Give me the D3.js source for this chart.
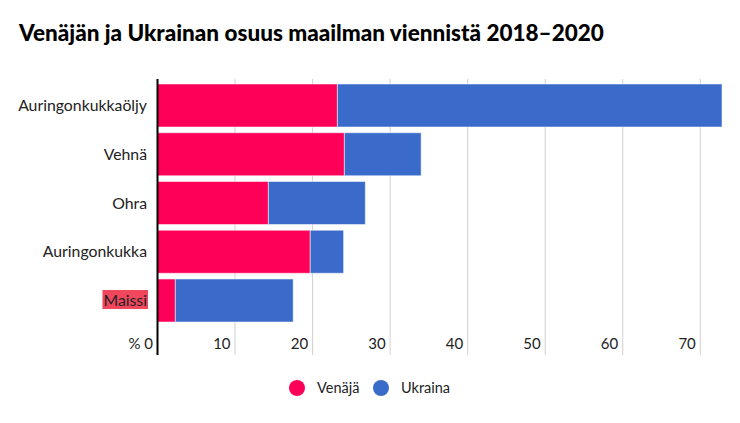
<!DOCTYPE html>
<html lang="fi">
<head>
<meta charset="UTF-8">
<title>Venäjän ja Ukrainan osuus maailman viennistä 2018–2020</title>
<style>
  body { margin: 0; background: #fff; }
  svg text { font-family: Lato, "Open Sans", sans-serif; fill: #222; }
  .title { font-size: 22.5px; font-weight: 900; fill: #000; }
  .cat { font-size: 15.8px; }
  .tick text { font-size: 15px; }
  .legend text { font-size: 14.5px; }
</style>
</head>
<body>
<svg width="740" height="423"></svg>
<script src="https://d3js.org/d3.v7.min.js"></script>
<script>
const categories = ["Auringonkukkaöljy", "Vehnä", "Ohra", "Auringonkukka", "Maissi"];
const russia = [23.2, 24.1, 14.3, 19.7, 2.3];
const ukraine = [49.6, 9.9, 12.5, 4.3, 15.2];
const seriesNames = ["Venäjä", "Ukraina"];
const colors = ["#ff0058", "#3a6bcb"];
const ticks = [0, 10, 20, 30, 40, 50, 60, 70];

const svg = d3.select("svg");
const margin = { left: 157.5, right: 18, top: 79, bottom: 68 };

svg.append("text")
    .attr("class", "title")
    .attr("x", 19).attr("y", 41)
    .text("Venäjän ja Ukrainan osuus maailman viennistä 2018–2020");

const rows = categories.map((c, i) => ({ cat: c, "Venäjä": russia[i], "Ukraina": ukraine[i] }));
const stacked = d3.stack().keys(seriesNames)(rows);

const x = d3.scaleLinear()
    .domain([0, d3.max(rows, d => d["Venäjä"] + d["Ukraina"])])
    .range([margin.left, 740 - margin.right]);

const y = d3.scaleBand()
    .domain(categories)
    .range([84, 322])
    .paddingInner(0.118)
    .paddingOuter(0);

// gridlines
svg.append("g")
    .selectAll("line")
    .data(ticks.slice(1))
    .join("line")
    .attr("x1", d => x(d)).attr("x2", d => x(d))
    .attr("y1", margin.top).attr("y2", 355)
    .attr("stroke", "#d0d0d0")
    .attr("stroke-width", 1);

// bars
svg.append("g")
    .selectAll("g")
    .data(stacked)
    .join("g")
    .attr("fill", (d, i) => colors[i])
    .selectAll("rect")
    .data(d => d)
    .join("rect")
    .attr("x", d => x(d[0]))
    .attr("y", d => y(d.data.cat))
    .attr("width", d => x(d[1]) - x(d[0]))
    .attr("height", y.bandwidth())
    .attr("stroke", "rgba(255,255,255,0.5)")
    .attr("stroke-width", 1);

// category labels
const catG = svg.append("g");
categories.forEach(c => {
  const t = catG.append("text")
      .attr("class", "cat")
      .attr("x", 147)
      .attr("y", y(c) + y.bandwidth() / 2)
      .attr("dy", "0.35em")
      .attr("text-anchor", "end")
      .text(c);
  if (c === "Maissi") {
    const bb = t.node().getBBox();
    catG.insert("rect", "text")
        .attr("x", bb.x - 1).attr("y", bb.y)
        .attr("width", bb.width + 2).attr("height", bb.height)
        .attr("fill", "#f0475d");
  }
});

// x axis labels
const axis = d3.axisBottom(x).tickValues(ticks).tickSize(0)
    .tickFormat(d => d === 0 ? "% 0" : d);
const ax = svg.append("g")
    .attr("class", "x-axis")
    .attr("transform", "translate(0,335)")
    .call(axis);
ax.select(".domain").remove();
ax.selectAll(".tick text")
    .attr("text-anchor", "end")
    .attr("x", -5)
    .attr("dy", "0.7em");

// y axis line
svg.append("line")
    .attr("x1", x(0)).attr("x2", x(0))
    .attr("y1", margin.top).attr("y2", 355)
    .attr("stroke", "#000")
    .attr("stroke-width", 2);

// legend
const legend = svg.append("g").attr("class", "legend");
const lx = [297, 381];
seriesNames.forEach((s, i) => {
  legend.append("circle")
      .attr("cx", lx[i]).attr("cy", 388)
      .attr("r", 8)
      .attr("fill", colors[i]);
  legend.append("text")
      .attr("x", lx[i] + 20).attr("y", 388)
      .attr("dy", "0.35em")
      .text(s);
});
</script>
</body>
</html>
